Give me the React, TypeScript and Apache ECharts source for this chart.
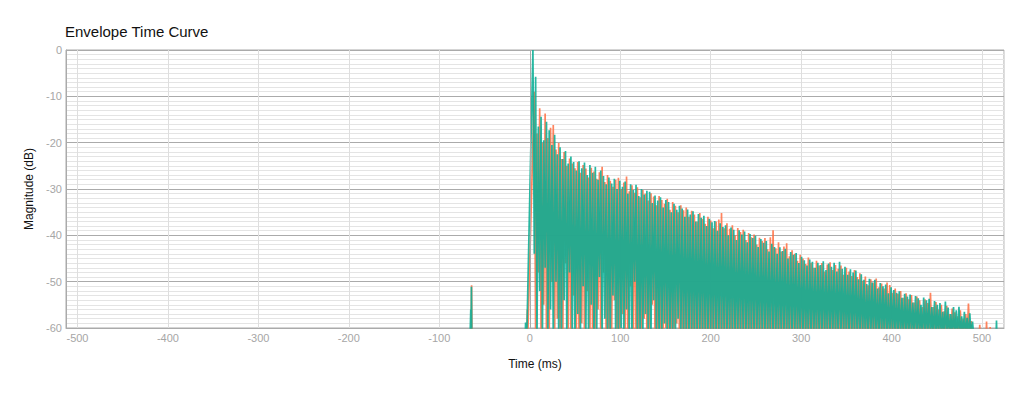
import React, { useEffect, useRef } from "react";
import * as echarts from "echarts";

const titleText = "Envelope Time Curve";
const xName = "Time (ms)";
const yName = "Magnitude (dB)";
const xMin = -512.7;
const xMax = 524.3;
const yMin = -60;
const yMax = 0;

// envelope samples (ms between successive peaks)
const step = 3;
const tealStart = 3.5;
const orangeStart = 5;

const tealPeaks = [
  0, -5.8, -16.5, -14.4, -19.5, -15.5, -17.3, -20.5, -18.3, -22.5,
  -21, -23.5, -21.8, -24.5, -23, -24.2, -26, -24, -25.5, -24.3,
  -27, -24.8, -26.5, -25.2, -28, -26, -27.2, -29, -27.5, -28.8,
  -27.8, -30, -28.2, -29.5, -28.4, -31, -29, -30.2, -29.1, -31.5,
  -30, -31.2, -30.4, -30.6, -33, -31.4, -32.5, -31.8, -34, -32.4,
  -32.8, -35, -33.2, -34.5, -33.6, -34.2, -36, -34.4, -35.5, -34.8,
  -37, -35.4, -36.2, -35.8, -38, -36.4, -37.2, -36.9, -39, -37.4,
  -38.2, -37.8, -40, -38.3, -38.8, -41, -38.9, -39.8, -39.2, -41.5,
  -39.7, -40.6, -40.1, -42.5, -40.8, -41.6, -41.2, -43.5, -41.8, -42.5,
  -44, -42.6, -43.4, -42.9, -45, -43.6, -44.2, -43.8, -46, -44.6,
  -45.4, -46.5, -45.2, -45.7, -47, -45.9, -46.4, -45.6, -47.5, -46.1,
  -46.8, -45.9, -47.8, -45.7, -47.2, -46.8, -48.5, -47.3, -48, -47.6,
  -49.5, -48.4, -49.6, -50.5, -49.4, -50.2, -49.6, -51.5, -50.3, -51,
  -50.6, -52.5, -51.2, -51.8, -52.4, -52.1, -53.5, -52.6, -53.2, -52.8,
  -54.5, -53.1, -53.6, -55, -53.4, -54, -53.7, -55.5, -54.2, -55,
  -54.6, -56.5, -54.3, -55.6, -57, -55.5, -56.2, -55.4, -57.5, -56.5,
  -57.8, -56.8, -58.6,
];

const tealTroughs = [
  -44, -62, -52, -62, -47, -62, -56, -62, -50, -62,
  -62, -54, -62, -48, -62, -62, -57, -62, -51, -62,
  -62, -55, -62, -62, -49, -62, -58, -62, -62, -53,
  -62, -62, -60, -62, -56, -62, -62, -50, -62, -62,
  -62, -57, -62, -62, -54, -62, -62, -62, -59, -62,
  -62, -62, -62, -58, -62, -62, -62, -62, -62, -62,
  -62, -62, -62, -62, -62, -62, -62, -62, -62, -62,
  -62, -62, -62, -62, -62, -62, -62, -62, -62, -62,
  -62, -62, -62, -62, -62, -62, -62, -62, -62, -62,
  -62, -62, -62, -62, -62, -62, -62, -62, -62, -62,
  -62, -62, -62, -62, -62, -62, -62, -62, -62, -62,
  -62, -62, -62, -62, -62, -62, -62, -62, -62, -62,
  -62, -62, -62, -62, -62, -62, -62, -62, -62, -62,
  -62, -62, -62, -62, -62, -62, -62, -62, -62, -62,
  -62, -62, -62, -62, -62, -62, -62, -62, -62, -62,
  -62, -62, -62, -62, -62, -62, -62, -62, -62, -62,
  -62, -62, -62,
];

const orangePeaks = [
  -9, -18, -12.6, -20, -13.7, -19, -16.8, -16.2, -21.5, -20.1,
  -23.5, -22, -25, -23.4, -24.5, -25.5, -24.2, -26.5, -24.8, -25.6,
  -27.5, -25.4, -26.2, -27.8, -26.4, -25.2, -28.5, -27, -28.2, -29.5,
  -28, -27.6, -30, -28.6, -27.3, -30.5, -29.2, -30.8, -29.6, -31.8,
  -30.2, -31, -32.5, -30.9, -31.6, -33.5, -31.5, -32.4, -33.2, -32.1,
  -34.5, -32.8, -33.6, -35, -33.5, -34.6, -34, -36, -34.7, -35.5,
  -37, -35.2, -36.4, -37.5, -36, -36.8, -38.5, -37, -36.6, -35.2,
  -38.5, -37.4, -38.6, -37.8, -40, -38.4, -39.3, -38.8, -41, -39.5,
  -40.4, -39.8, -42, -40.5, -41.2, -40.6, -43, -40.4, -38.9, -42.8,
  -41.5, -43.5, -42.4, -41.7, -44.5, -43.2, -44, -45.5, -44.2, -45,
  -46.2, -44.8, -45.9, -47, -45.5, -46.5, -46, -47.8, -46.3, -45.8,
  -47.5, -46.4, -47.2, -46.5, -48.5, -47, -47.8, -48.8, -47.5, -49,
  -48.2, -49.8, -48.9, -50.8, -49.5, -50.2, -49.3, -51.2, -50.4, -51.5,
  -50.2, -50.7, -52.4, -51.5, -52.6, -52, -53.5, -52.5, -53.8, -52.9,
  -54.5, -53.2, -54, -55.5, -53.8, -54.6, -52.4, -55.5, -54.4, -56,
  -55, -56.4, -55.2, -57, -55.8, -56.6, -57.5, -56.2, -58, -57,
  -54.7, -58.5,
];

const orangeTroughs = [
  -62, -48, -62, -55, -62, -62, -50, -62, -58, -62,
  -62, -46, -62, -62, -53, -62, -62, -59, -62, -52,
  -62, -62, -62, -56, -62, -48, -62, -62, -62, -54,
  -62, -62, -57, -62, -62, -51, -62, -62, -62, -62,
  -58, -62, -62, -55, -62, -62, -62, -62, -60, -62,
  -62, -62, -59, -62, -62, -62, -62, -62, -62, -62,
  -62, -62, -62, -62, -62, -62, -62, -62, -62, -62,
  -62, -62, -62, -62, -62, -62, -62, -62, -62, -62,
  -62, -62, -62, -62, -62, -62, -62, -62, -62, -62,
  -62, -62, -62, -62, -62, -62, -62, -62, -62, -62,
  -62, -62, -62, -62, -62, -62, -62, -62, -62, -62,
  -62, -62, -62, -62, -62, -62, -62, -62, -62, -62,
  -62, -62, -62, -62, -62, -62, -62, -62, -62, -62,
  -62, -62, -62, -62, -62, -62, -62, -62, -62, -62,
  -62, -62, -62, -62, -62, -62, -62, -62, -62, -62,
  -62, -62, -62, -62, -62, -62, -62, -62, -62, -62,
  -62, -62,
];

// pre-echo and onset points [ms, dB]
const tealPre = [
  [-66, -62], [-65.2, -56], [-64.9, -62], [-64.5, -51.1], [-64.1, -62],
  [-5, -62], [-4.6, -58.8], [-4.2, -62], [-3.3, -62],
];
const orangePre = [
  [-66, -62], [-64.7, -62], [-64.3, -50.8], [-63.9, -62],
  [-3.2, -62], [-2.6, -56], [-2.2, -62], [-1.5, -62],
];
// late isolated spikes [ms, dB]
const tealTail = [[515.5, -62], [516, -58.4], [516.5, -62]];
const orangeTail = [
  [497, -62], [497.5, -59.3], [498, -62],
  [504.5, -62], [505, -58.6], [505.5, -62],
  [508.5, -62], [509, -59.8], [509.5, -62],
];

function buildTrace(pre: number[][], start: number, peaks: number[], troughs: number[], tail: number[][]) {
  const pts: number[][] = pre.slice();
  for (let i = 0; i < peaks.length; i++) {
    const t = start + i * step;
    pts.push([t, peaks[i]]);
    pts.push([t + step / 2, troughs[i]]);
  }
  return pts.concat(tail);
}

const FONT = "'Liberation Sans', Arial, Helvetica, sans-serif";
const TEAL = "#0aae95";
const ORANGE = "#ff6e42";

export default function App() {
  const ref = useRef<HTMLDivElement>(null);
  useEffect(() => {
    if (!ref.current) return;
    const chart = echarts.init(ref.current, null, { renderer: "svg" });
    const teal = buildTrace(tealPre, tealStart, tealPeaks, tealTroughs, tealTail);
    const orange = buildTrace(orangePre, orangeStart, orangePeaks, orangeTroughs, orangeTail);
    chart.setOption({
      animation: false,
      title: {
        text: titleText,
        left: 65,
        top: 24,
        padding: 0,
        textStyle: { fontFamily: FONT, fontSize: 15, fontWeight: "normal", color: "#111" },
      },
      grid: {
        left: 66,
        right: 20,
        top: 50,
        bottom: 72,
        show: true,
        borderColor: "#aaa",
        borderWidth: 1,
        backgroundColor: "transparent",
      },
      xAxis: {
        type: "value",
        min: xMin,
        max: xMax,
        splitNumber: 10,
        name: xName,
        nameLocation: "middle",
        nameGap: 30,
        nameTextStyle: { fontFamily: FONT, fontSize: 12, color: "#111" },
        axisLine: { show: true, onZero: false, lineStyle: { color: "#aaa" } },
        axisTick: { show: false },
        axisLabel: {
          color: "#a6a6a6",
          fontFamily: FONT,
          fontSize: 11,
          margin: 4,
          showMinLabel: false,
          showMaxLabel: false,
        },
        splitLine: { show: true, lineStyle: { color: "#dedede", width: 1 } },
      },
      yAxis: {
        type: "value",
        min: yMin,
        max: yMax,
        interval: 10,
        name: yName,
        nameLocation: "middle",
        nameGap: 28,
        nameTextStyle: { fontFamily: FONT, fontSize: 12, color: "#111" },
        axisLine: { show: true, onZero: false, lineStyle: { color: "#aaa" } },
        axisTick: { show: false },
        axisLabel: { color: "#a6a6a6", fontFamily: FONT, fontSize: 11, margin: 4 },
        splitLine: { show: true, lineStyle: { color: "#aaa", width: 1 } },
        minorTick: { show: false, splitNumber: 10 },
        minorSplitLine: { show: true, lineStyle: { color: "#e4e4e4", width: 1 } },
      },
      series: [
        {
          type: "line",
          data: orange,
          showSymbol: false,
          symbol: "none",
          clip: true,
          lineStyle: { color: ORANGE, width: 1.7, opacity: 0.85 },
          itemStyle: { color: ORANGE },
          markLine: {
            silent: true,
            symbol: "none",
            label: { show: false },
            lineStyle: { color: "#aaa", width: 1, type: "solid" },
            data: [{ xAxis: 0 }],
          },
          z: 2,
        },
        {
          type: "line",
          data: teal,
          showSymbol: false,
          symbol: "none",
          clip: true,
          lineStyle: { color: TEAL, width: 1.7, opacity: 0.88 },
          itemStyle: { color: TEAL },
          z: 3,
        },
      ],
    });
    return () => chart.dispose();
  }, []);
  return (
    <div
      ref={ref}
      style={{ position: "fixed", left: 0, top: 0, width: 1024, height: 400, background: "#fff" }}
    />
  );
}
